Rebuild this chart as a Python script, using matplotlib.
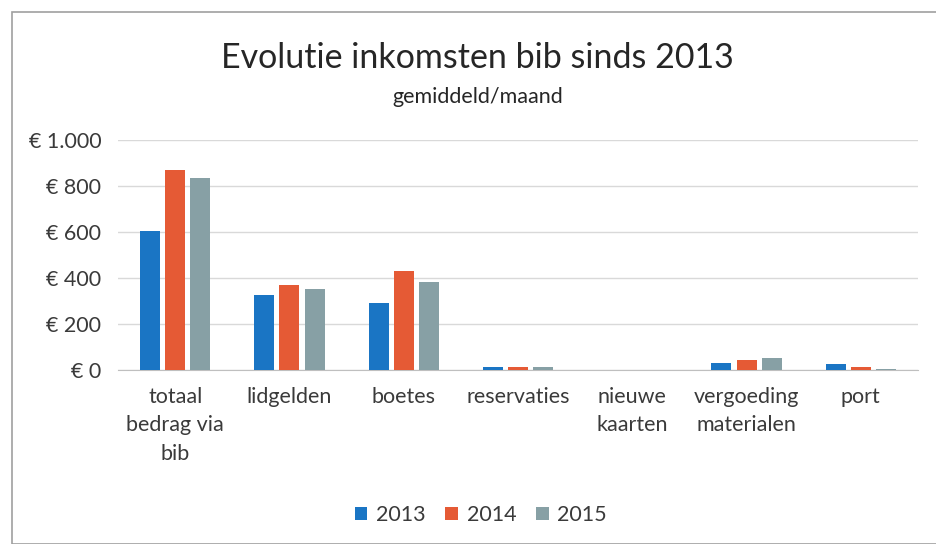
import numpy as np
import matplotlib.pyplot as plt
from matplotlib.patches import Rectangle

categories = ["totaal\nbedrag via\nbib", "lidgelden", "boetes", "reservaties",
              "nieuwe\nkaarten", "vergoeding\nmaterialen", "port"]
years = ["2013", "2014", "2015"]
v2013 = [604, 326, 291, 13, 0, 30, 28]
v2014 = [870, 370, 430, 13, 0, 43, 14]
v2015 = [835, 352, 383, 12, 0, 52, 4]
colors = ["#1a75c4", "#e55a35", "#87a0a5"]
yticks = [0, 200, 400, 600, 800, 1000]
ylabels = ["€ 0", "€ 200", "€ 400", "€ 600", "€ 800", "€ 1.000"]

plt.rcParams["font.family"] = ["Lato", "DejaVu Sans"]
txt = "#3a3a3a"

fig = plt.figure(figsize=(9.37, 5.44), dpi=100)
ax = fig.add_axes([118 / 937, 174 / 544, 800 / 937, 230 / 544])

x = np.arange(len(categories))
w = 0.175
step = 0.22
for i, (vals, c, lab) in enumerate(zip([v2013, v2014, v2015], colors, years)):
    ax.bar(x + (i - 1) * step, vals, width=w, color=c, label=lab, zorder=3)

ax.set_xlim(-0.5, len(categories) - 0.5)
ax.set_ylim(0, 1000)
ax.set_yticks(yticks)
ax.set_yticklabels(ylabels, fontsize=15.5, color=txt)
ax.set_xticks(x)
ax.set_xticklabels(categories, fontsize=15.5, color=txt, linespacing=1.55)
ax.tick_params(length=0, pad=12)
ax.tick_params(axis="y", pad=12)
ax.grid(axis="y", color="#d9d9d9", linewidth=1, zorder=0)
for s in ["top", "right", "left"]:
    ax.spines[s].set_visible(False)
ax.spines["bottom"].set_color("#bfbfbf")

fig.text(0.51, 1 - 58 / 544, "Evolutie inkomsten bib sinds 2013",
         ha="center", va="center", fontsize=24.5, color="#262626")
fig.text(0.51, 1 - 97 / 544, "gemiddeld/maand", ha="center", va="center",
         fontsize=15.5, color="#262626")

fig.legend(loc="center", bbox_to_anchor=(0.513, 1 - 515 / 544), ncol=3,
           frameon=False, fontsize=15.5, handlelength=0.6, handleheight=0.6,
           columnspacing=0.9, handletextpad=0.4, labelcolor=txt)

fig.patches.append(Rectangle((12 / 937, 0), 1, 1 - 12 / 544, transform=fig.transFigure,
                             fill=False, edgecolor="#a0a0a0", linewidth=1.2))

fig.savefig("out.png", dpi=100)
